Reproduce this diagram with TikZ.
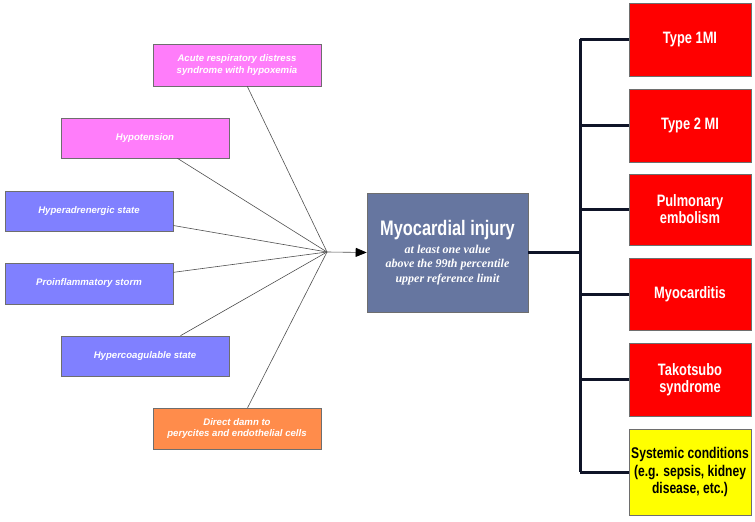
\documentclass[tikz,border=0pt]{standalone}
\usepackage{fontspec}
\setmainfont{Liberation Sans}
\newfontfamily\condfont[FakeStretch=0.78]{Liberation Sans}
\newfontfamily\seriffont{Liberation Serif}
\usetikzlibrary{arrows.meta}
\definecolor{pinkbox}{RGB}{255,125,250}
\definecolor{bluebox}{RGB}{128,128,255}
\definecolor{orangebox}{RGB}{255,140,75}
\definecolor{myobox}{RGB}{102,118,160}
\definecolor{redbox}{RGB}{255,0,0}
\definecolor{yellowbox}{RGB}{255,255,0}
\definecolor{edgegray}{RGB}{110,110,110}
\definecolor{fanline}{RGB}{80,80,80}
\definecolor{busline}{RGB}{15,20,40}
\newcommand{\subfnt}{\seriffont\fontsize{12bp}{14.5bp}\selectfont\bfseries\itshape}
\tikzset{
  causebox/.style={draw=edgegray, line width=0.6bp, minimum width=168bp, minimum height=41bp, inner sep=0pt,
    align=center, text=white, font=\fontsize{9.6bp}{11.5bp}\selectfont\bfseries\itshape},
  resultbox/.style={draw=edgegray, line width=0.6bp, fill=redbox, minimum width=122bp, minimum height=73bp, inner sep=0pt,
    align=center, text=white, font=\condfont\fontsize{16.5bp}{17bp}\selectfont\bfseries},
  fan/.style={draw=fanline, line width=0.6bp},
  bus/.style={draw=busline, line width=3bp},
}
\begin{document}
\begin{tikzpicture}[x=1bp, y=-1bp]
\useasboundingbox (0,0) rectangle (755,522);
% causes
\node[causebox, fill=pinkbox, minimum height=42bp] (ards) at (237,65) {Acute respiratory distress\\syndrome with hypoxemia};
\node[causebox, fill=pinkbox, minimum height=40bp] (hypo) at (145,138) {Hypotension};
\node[causebox, fill=bluebox, minimum height=40bp] (hyper) at (89,211) {Hyperadrenergic state};
\node[causebox, fill=bluebox] (proinf) at (89,283.5) {Proinflammatory storm};
\node[causebox, fill=bluebox, minimum height=40bp] (coag) at (145,356) {Hypercoagulable state};
\node[causebox, fill=orangebox] (direct) at (237,428.5) {Direct damn to\\perycites and endothelial cells};
% central
\node[draw=edgegray, line width=0.6bp, fill=myobox, minimum width=161bp, minimum height=119bp, inner sep=0pt, align=center, text=white,
  font=\subfnt] (myo) at (447.5,252.5)
  {\condfont\fontsize{21bp}{22bp}\selectfont\bfseries\upshape Myocardial injury\\[3bp]
   \subfnt at least one value\\\subfnt above the 99th percentile\\\subfnt upper reference limit};
% results
\node[resultbox] (t1) at (690,39.5) {Type 1MI};
\node[resultbox] (t2) at (690,125.5) {Type 2 MI};
\node[resultbox, minimum height=71bp] (pe) at (690,209.5) {Pulmonary\\embolism};
\node[resultbox, minimum height=72bp] (mc) at (690,294) {Myocarditis};
\node[resultbox] (tk) at (690,379.5) {Takotsubo\\syndrome};
\node[resultbox, fill=yellowbox, text=black, minimum height=86bp, font=\condfont\fontsize{15.5bp}{17.5bp}\selectfont\bfseries] (sys) at (690,472) {Systemic conditions\\(e.g. sepsis, kidney\\disease, etc.)};
% fan-in
\coordinate (hub) at (327,252);
\foreach \b in {ards,hypo,hyper,proinf,coag,direct} \draw[fan] (hub) -- (\b);
\draw[fan, -{Triangle[length=11bp,width=9bp,color=black,fill=black]}] (hub) -- (myo.west);
% bus
\coordinate (bustop) at (580,0 |- t1.west);
\coordinate (busbot) at (580,0 |- sys.west);
\coordinate (busmid) at (580,0 |- myo.east);
\draw[bus] (bustop) -- (busbot);
\draw[bus] (myo.east) -- (busmid);
\foreach \r in {t1,t2,pe,mc,tk,sys} \draw[bus] (bustop |- \r.west) -- (\r.west);
\end{tikzpicture}
\end{document}
